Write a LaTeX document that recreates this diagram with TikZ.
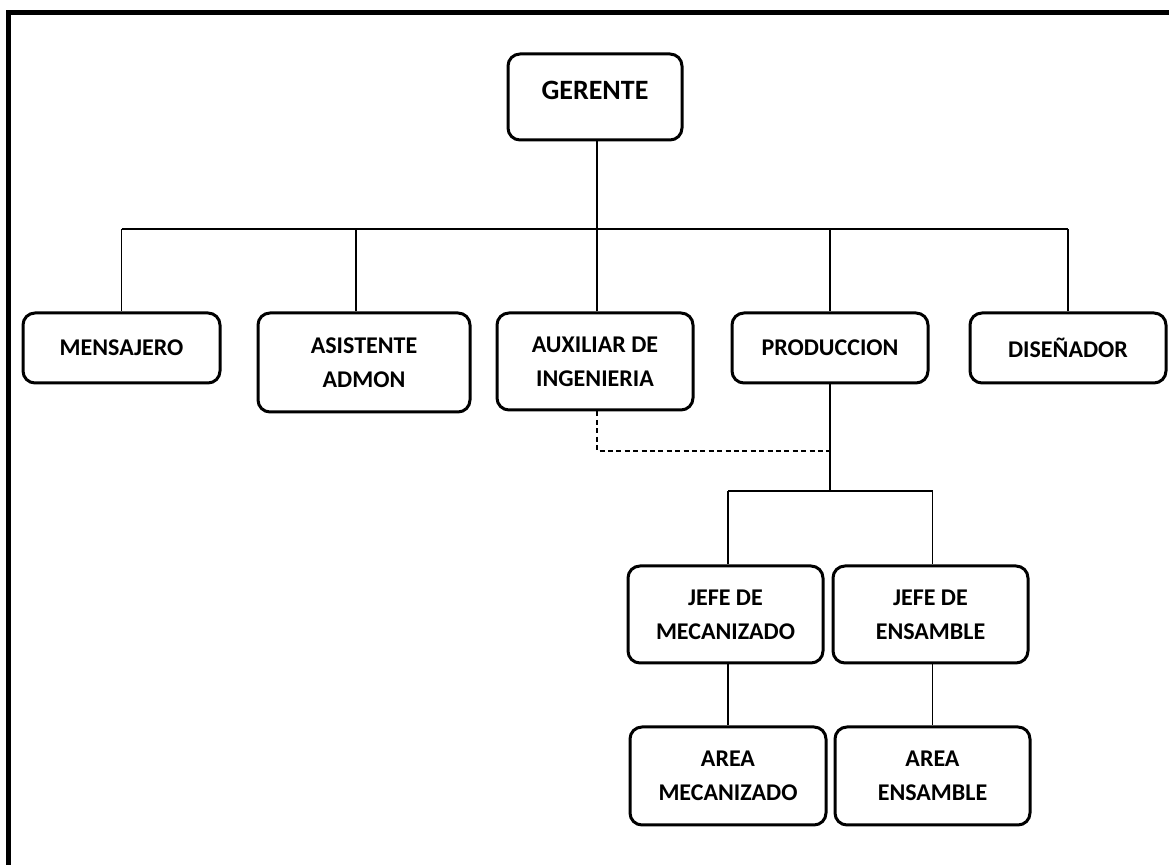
\documentclass[tikz,border=0pt]{standalone}
\usepackage{fontspec}
\setmainfont{Carlito}
\begin{document}
\begin{tikzpicture}[x=0.5pt,y=-0.5pt,
  box/.style={draw, line width=1.5pt, rounded corners=6pt, align=center,
    font=\bfseries\fontsize{12}{17}\selectfont, inner sep=0pt},
  conn/.style={line width=0.7pt},
  dashconn/.style={line width=0.7pt, dash pattern=on 2.5pt off 1.7pt},
  frame/.style={line width=2.5pt}
]
\useasboundingbox (0,0) rectangle (1169,865);
\clip (0,0) rectangle (1169,865);
\draw[frame] (8.5,880) -- (8.5,12.5) -- (1180,12.5);

\node[box, minimum width=87pt, minimum height=43pt, font=\bfseries\fontsize{14}{17}\selectfont, text depth=7pt] (ger) at (595,97) {GERENTE};

\node[box, minimum width=98.5pt, minimum height=35pt] (mens) at (121.5,348) {MENSAJERO};
\node[box, minimum width=106pt, minimum height=49.5pt] (asis) at (364,362.5) {ASISTENTE\\ADMON};
\node[box, minimum width=98pt, minimum height=48.5pt] (aux) at (595,361.5) {AUXILIAR DE\\INGENIERIA};
\node[box, minimum width=98pt, minimum height=35pt] (prod) at (830,348) {PRODUCCION};
\node[box, minimum width=98pt, minimum height=35pt] (dis) at (1068,348) {DISEÑADOR};

\node[box, minimum width=97.5pt, minimum height=48.5pt] (jm) at (725.5,614.5) {JEFE DE\\MECANIZADO};
\node[box, minimum width=97.5pt, minimum height=48.5pt] (je) at (930.5,614.5) {JEFE DE\\ENSAMBLE};
\node[box, minimum width=98pt, minimum height=49pt] (am) at (728,776) {AREA\\MECANIZADO};
\node[box, minimum width=97.5pt, minimum height=49pt] (ae) at (932.5,776) {AREA\\ENSAMBLE};

\coordinate (bus) at (597,229);
\coordinate (dj) at (830,451);
\coordinate (bus2) at (830,491);

% top level
\draw[conn] ([xshift=1pt]ger.south) -- ([xshift=1pt]ger.south |- bus);
\draw[conn] (mens.north |- bus) -- (dis.north |- bus);
\draw[conn] (mens.north) -- (mens.north |- bus);
\draw[conn] ([xshift=-4pt]asis.north) -- ([xshift=-4pt]asis.north |- bus);
\draw[conn] ([xshift=1pt]aux.north) -- ([xshift=1pt]aux.north |- bus);
\draw[conn] (prod.north) -- (prod.north |- bus);
\draw[conn] (dis.north) -- (dis.north |- bus);

% dashed link
\draw[dashconn] ([xshift=1pt]aux.south) |- (dj);

% production branch
\draw[conn] (prod.south) -- (bus2);
\draw[conn] (bus2 -| am.north) -- (bus2 -| ae.north);
\draw[conn] (bus2 -| am.north) -- (jm.north -| am.north);
\draw[conn] (bus2 -| ae.north) -- (je.north -| ae.north);
\draw[conn] (jm.south -| am.north) -- (am.north);
\draw[conn] (je.south -| ae.north) -- (ae.north);
\end{tikzpicture}
\end{document}
